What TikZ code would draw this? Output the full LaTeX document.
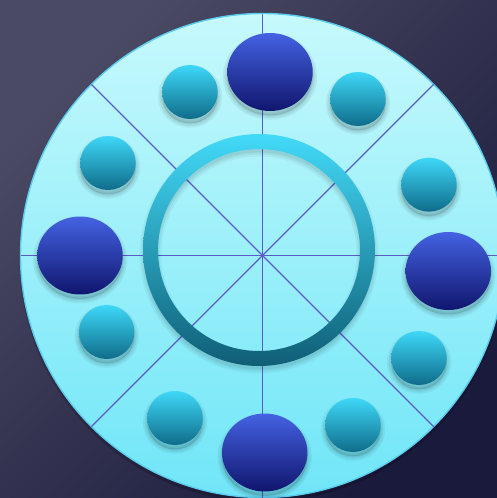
\documentclass[tikz,border=0pt]{standalone}
\usepackage{xcolor}
\usetikzlibrary{shapes.geometric, calc, positioning}
\definecolor{bgtop}{HTML}{4A4A64}
\definecolor{bgbottom}{HTML}{1A1A3C}
\definecolor{dialtop}{HTML}{C6F9FC}
\definecolor{dialbottom}{HTML}{70E6F8}
\definecolor{dialrim}{HTML}{5CCDF0}
\definecolor{spoke}{HTML}{5A5CC8}
\definecolor{ringtop}{HTML}{42DAF8}
\definecolor{ringbottom}{HTML}{0F5E76}
\definecolor{seattop}{HTML}{3ED8F8}
\definecolor{seatbottom}{HTML}{0F6C8A}
\definecolor{headtop}{HTML}{4462E2}
\definecolor{headbottom}{HTML}{10166E}
\tikzset{
  spokeline/.style={spoke, line width=0.75pt},
  dial/.style={top color=dialtop, bottom color=dialbottom, draw=dialrim, line width=0.8pt},
  ringband/.style={even odd rule, top color=ringtop, bottom color=ringbottom},
  softshade/.style={preaction={draw=black, opacity=0.05, line width=#1, transform canvas={yshift=-2.5pt}}},
  seatshadow/.style={softshade=5pt, softshade=3pt, softshade=1.2pt,
    preaction={fill=black, opacity=0.12, transform canvas={yshift=-2.5pt}}},
  headseat/.style={ellipse, inner sep=0pt, minimum width=1.71cm, minimum height=1.56cm, top color=headtop, bottom color=headbottom, seatshadow},
  sideseat/.style={ellipse, inner sep=0pt, minimum width=1.11cm, minimum height=1.08cm, top color=seattop, bottom color=seatbottom, seatshadow},
}
\begin{document}
\begin{tikzpicture}[x=0.02cm, y=-0.02cm]
  \clip (0,0) rectangle (497,498);
  \shade[top color=bgtop, bottom color=bgbottom, shading angle=45] (0,0) rectangle (497,498);

  % Table top
  \coordinate (O) at (262.5,255.5);
  \coordinate (C) at (259,250);
  \fill[black, opacity=0.18] (262.5,259) circle (243);
  \path[dial] (O) circle (242);
  \foreach \a in {0,45,...,315} {
    \draw[spokeline] (O) -- ++(\a:242);
  }

  % Centre ring
  \foreach \w/\op in {22/0.04,18/0.05,14/0.06} {
    \draw[black, opacity=\op, line width=\w*0.02cm] ($(C)+(0,4)$) circle (108.5);
  }
  \path[ringband] (C) circle (116) (C) circle (101);

  % Seats
  \foreach \n/\x/\y in {north/270/72,west/80/255.5,east/448.3/271,south/264.7/452.5} {
    \node[headseat] (head-\n) at (\x,\y) {};
  }
  \foreach \n/\x/\y in {a/190/92,b/358/99,c/429/184.7,d/419/358,e/353/425,f/175/418,g/106.7/332,h/108/163} {
    \node[sideseat] (seat-\n) at (\x,\y) {};
  }
\end{tikzpicture}
\end{document}
